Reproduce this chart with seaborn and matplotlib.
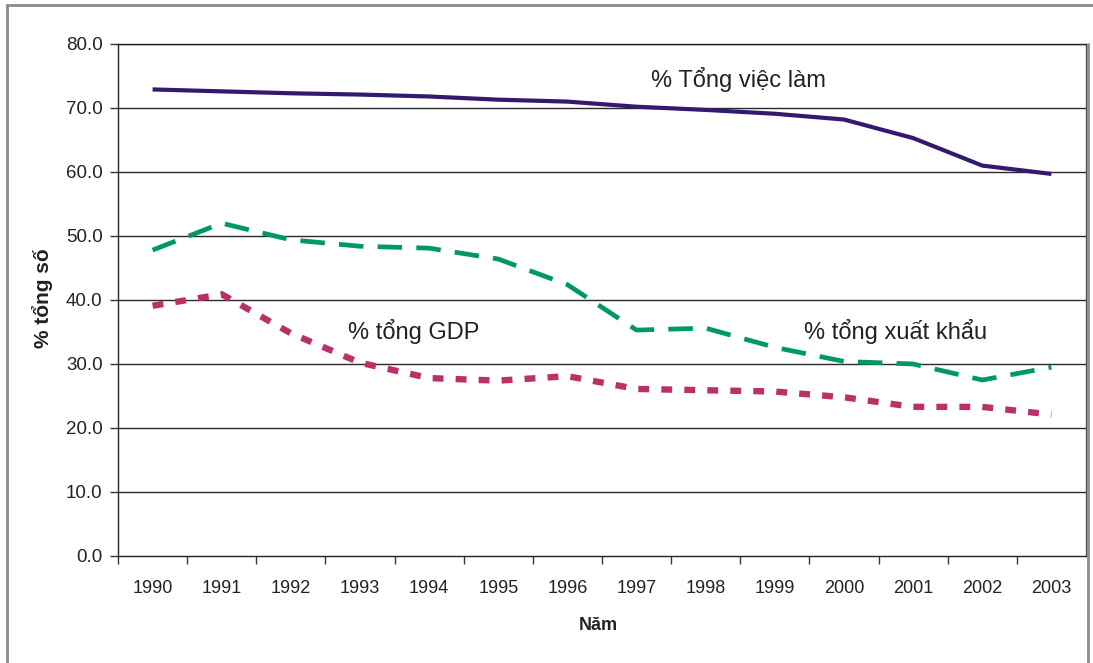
import matplotlib
matplotlib.use("Agg")
import matplotlib.pyplot as plt
from matplotlib.lines import Line2D
import seaborn as sns
import pandas as pd

# Years and shares (% of total) for the three indicators
years = [1990, 1991, 1992, 1993, 1994, 1995, 1996,
         1997, 1998, 1999, 2000, 2001, 2002, 2003]
employment = [72.9, 72.6, 72.3, 72.1, 71.8, 71.3, 71.0,
              70.2, 69.7, 69.1, 68.2, 65.3, 61.0, 59.7]
exports = [47.8, 52.0, 49.4, 48.4, 48.1, 46.4, 42.4,
           35.3, 35.6, 32.6, 30.4, 30.0, 27.5, 29.5]
gdp = [39.1, 40.9, 34.8, 30.2, 27.8, 27.4, 28.1,
       26.1, 25.9, 25.7, 24.8, 23.3, 23.3, 22.1]

y_ticks = [0, 10, 20, 30, 40, 50, 60, 70, 80]

label_employment = "% Tổng việc làm"
label_exports = "% tổng xuất khẩu"
label_gdp = "% tổng GDP"
x_title = "Năm"
y_title = "% tổng số"

df = pd.DataFrame({
    "year": years * 3,
    "value": employment + exports + gdp,
    "series": [label_employment] * len(years)
              + [label_exports] * len(years)
              + [label_gdp] * len(years),
})

sns.set_theme(style="white")
plt.rcParams["font.family"] = ["Liberation Sans", "DejaVu Sans"]
text_color = "#222222"

fig = plt.figure(figsize=(10.93, 6.63), dpi=100)
ax = fig.add_axes([118 / 1093, 1 - 556 / 663, (1086 - 118) / 1093, (556 - 44) / 663])

styles = {
    label_employment: dict(color="#34196E", lw=3.0, dashes=None),
    label_exports: dict(color="#00986A", lw=3.4, dashes=(5.2, 3.0)),
    label_gdp: dict(color="#BA3169", lw=4.6, dashes=(1.7, 1.9)),
}
for name, st in styles.items():
    sub = df[df["series"] == name]
    line_kw = dict(color=st["color"], linewidth=st["lw"], ax=ax, legend=False,
                   solid_capstyle="butt", dash_capstyle="butt", zorder=3)
    sns.lineplot(data=sub, x="year", y="value", **line_kw)
    if st["dashes"] is not None:
        ax.lines[-1].set_dashes(st["dashes"])

ax.set_xlim(years[0] - 0.5, years[-1] + 0.5)
ax.set_ylim(0, 80)

# Horizontal gridlines
ax.set_yticks(y_ticks)
ax.set_yticklabels([f"{v:.1f}" for v in y_ticks], fontsize=13.5, color=text_color)
for v in y_ticks[1:]:
    ax.axhline(v, color="#2a2a2a", lw=1.0, zorder=1)

# Year labels centred in bands, tick marks on band boundaries
ax.set_xticks(years)
ax.set_xticklabels([str(y) for y in years], fontsize=13, color=text_color)
ax.set_xticks([y + 0.5 for y in years[:-1]] + [years[0] - 0.5], minor=True)
ax.tick_params(axis="x", which="major", length=0, pad=17)
ax.tick_params(axis="x", which="minor", length=6, width=1, color="#333333",
               direction="out", bottom=True)
ax.tick_params(axis="y", which="major", length=6, width=1, color="#333333",
               direction="out", left=True, pad=5)

for side in ["left", "bottom", "top"]:
    ax.spines[side].set_color("#222222")
    ax.spines[side].set_linewidth(1.0)
ax.spines["right"].set_color("#555555")
ax.spines["right"].set_linewidth(1.0)

ax.set_xlabel(x_title, fontsize=13, fontweight="bold", color=text_color, va="center")
ax.xaxis.set_label_coords(0.496, -0.135)
ax.set_ylabel(y_title, fontsize=15, fontweight="bold", color=text_color, va="center")
ax.yaxis.set_label_coords(-0.0785, 0.503)

# Series annotations
ax.text(1998.47, 74.4, label_employment, fontsize=17, color=text_color,
        ha="center", va="center")
ax.text(1993.77, 35.0, label_gdp, fontsize=17, color=text_color,
        ha="center", va="center")
ax.text(2000.75, 35.0, label_exports, fontsize=17, color=text_color,
        ha="center", va="center")

# Outer frame
frame_color = "#8a8a8a"
fig.add_artist(Line2D([7 / 1093, 7 / 1093], [0, 1 - 5 / 663],
                      transform=fig.transFigure, color=frame_color, lw=2))
fig.add_artist(Line2D([7 / 1093, 1], [1 - 5 / 663, 1 - 5 / 663],
                      transform=fig.transFigure, color=frame_color, lw=2))
fig.add_artist(Line2D([1088 / 1093, 1088 / 1093], [0, 1 - 44 / 663],
                      transform=fig.transFigure, color=frame_color, lw=2))

fig.savefig("out.png", dpi=100, facecolor="white")
